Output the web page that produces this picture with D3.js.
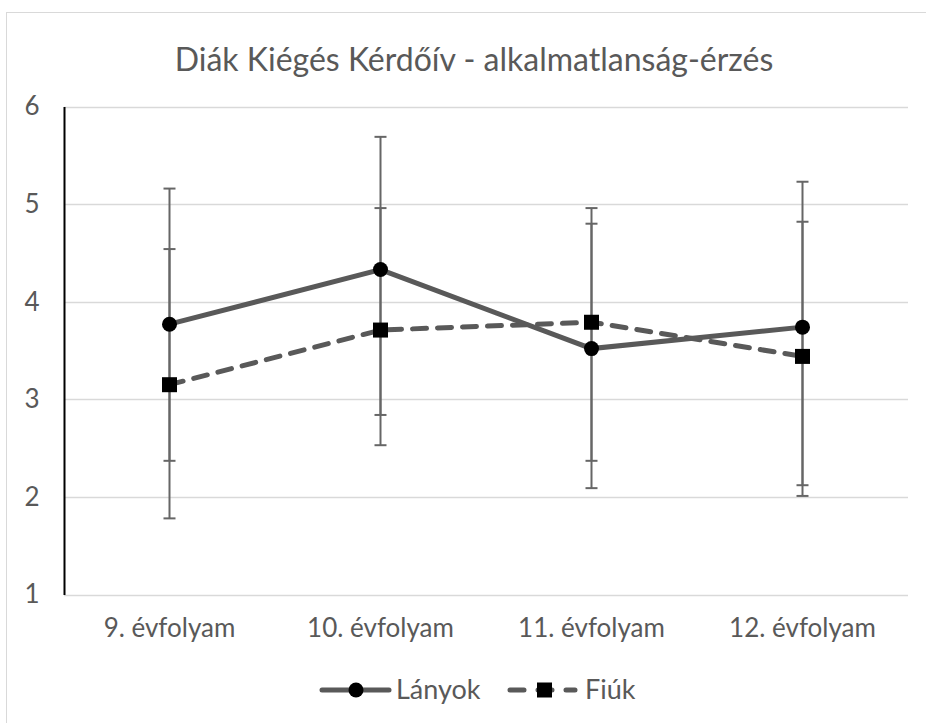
<!DOCTYPE html>
<html>
<head>
<meta charset="utf-8">
<script src="https://cdn.jsdelivr.net/npm/d3@7"></script>
<style>
  body { margin: 0; background: #fff; }
  svg { display: block; }
  text { font-family: "Lato", "Open Sans", sans-serif; fill: #595959; }
</style>
</head>
<body>
<svg id="chart" width="926" height="723"></svg>
<script>
const title = "Diák Kiégés Kérdőív - alkalmatlanság-érzés";
const categories = ["9. évfolyam", "10. évfolyam", "11. évfolyam", "12. évfolyam"];
const yTicks = [1, 2, 3, 4, 5, 6];
const seriesNames = ["Lányok", "Fiúk"];
const lanyok = [3.77, 4.33, 3.52, 3.74];
const lanyokHigh = [5.16, 5.69, 4.80, 5.23];
const lanyokLow = [2.37, 2.84, 2.09, 2.12];
const fiuk = [3.15, 3.71, 3.79, 3.44];
const fiukHigh = [4.54, 4.96, 4.96, 4.82];
const fiukLow = [1.78, 2.53, 2.37, 2.01];

const svg = d3.select("#chart");
const W = 926, H = 723;

// outer chart border
svg.append("rect").attr("x", 6.5).attr("y", 12.5).attr("width", W + 10).attr("height", H + 10)
  .attr("fill", "#fff").attr("stroke", "#d9d9d9").attr("stroke-width", 1);

const plot = { left: 64, right: 908, top: 106.6, bottom: 594.5 };

const x = d3.scaleBand().domain(categories).range([plot.left, plot.right]);
const y = d3.scaleLinear().domain([1, 6]).range([plot.bottom, plot.top]);

// title
svg.append("text").attr("x", 474).attr("y", 71).attr("text-anchor", "middle")
  .style("font-size", "32px").text(title);

// gridlines
svg.append("g").selectAll("line").data(yTicks).join("line")
  .attr("x1", plot.left).attr("x2", plot.right)
  .attr("y1", d => Math.round(y(d)) + 0.5).attr("y2", d => Math.round(y(d)) + 0.5)
  .attr("stroke", "#d9d9d9").attr("stroke-width", 1.3);

// y axis
const yAxis = d3.axisLeft(y).tickValues(yTicks).tickSize(0).tickPadding(32).tickFormat(d3.format("d"));
const gy = svg.append("g").attr("transform", `translate(${plot.left},0)`).call(yAxis);
gy.select(".domain").attr("stroke", "#000").attr("stroke-width", 2);
gy.selectAll("text").style("font-size", "26px").attr("fill", "#595959")
  .style("font-family", "Lato, sans-serif").attr("text-anchor", "middle");

// x axis labels
const xAxis = d3.axisBottom(x).tickSize(0).tickPadding(24);
const gx = svg.append("g").attr("transform", `translate(0,${plot.bottom})`).call(xAxis);
gx.select(".domain").remove();
gx.selectAll("text").style("font-size", "26px").attr("fill", "#595959").style("font-family", "Lato, sans-serif");

const cx = d => x(d) + x.bandwidth() / 2;

// error bars
function errorBars(vals, hi, lo) {
  const g = svg.append("g").attr("stroke", "#666").attr("stroke-width", 2);
  categories.forEach((c, i) => {
    g.append("line").attr("x1", cx(c)).attr("x2", cx(c)).attr("y1", y(hi[i])).attr("y2", y(lo[i]));
    [hi[i], lo[i]].forEach(v => {
      g.append("line").attr("x1", cx(c) - 6).attr("x2", cx(c) + 6).attr("y1", y(v)).attr("y2", y(v));
    });
  });
}
errorBars(lanyok, lanyokHigh, lanyokLow);
errorBars(fiuk, fiukHigh, fiukLow);

const line = d3.line().x((d, i) => cx(categories[i])).y(d => y(d));

svg.append("path").datum(fiuk).attr("d", line).attr("fill", "none")
  .attr("stroke", "#595959").attr("stroke-width", 5).attr("stroke-dasharray", "14,11").attr("stroke-linecap", "round");
svg.append("path").datum(lanyok).attr("d", line).attr("fill", "none")
  .attr("stroke", "#595959").attr("stroke-width", 5).attr("stroke-linecap", "round");

svg.append("g").selectAll("circle").data(lanyok).join("circle")
  .attr("cx", (d, i) => cx(categories[i])).attr("cy", d => y(d)).attr("r", 7.5).attr("fill", "#000");
svg.append("g").selectAll("rect").data(fiuk).join("rect")
  .attr("x", (d, i) => cx(categories[i]) - 7.5).attr("y", d => y(d) - 7.5)
  .attr("width", 15).attr("height", 15).attr("fill", "#000");

// legend
const ly = 690;
const lg = svg.append("g");
lg.append("line").attr("x1", 322).attr("x2", 389).attr("y1", ly).attr("y2", ly)
  .attr("stroke", "#595959").attr("stroke-width", 5).attr("stroke-linecap", "round");
lg.append("circle").attr("cx", 356).attr("cy", ly).attr("r", 7.5).attr("fill", "#000");
lg.append("text").attr("x", 396).attr("y", ly + 9).style("font-size", "27px").text(seriesNames[0]);
lg.append("line").attr("x1", 510).attr("x2", 575).attr("y1", ly).attr("y2", ly)
  .attr("stroke", "#595959").attr("stroke-width", 5).attr("stroke-dasharray", "14,14").attr("stroke-linecap", "round");
lg.append("rect").attr("x", 537).attr("y", ly - 7.5).attr("width", 15).attr("height", 15).attr("fill", "#000");
lg.append("text").attr("x", 585).attr("y", ly + 9).style("font-size", "27px").text(seriesNames[1]);
</script>
</body>
</html>
